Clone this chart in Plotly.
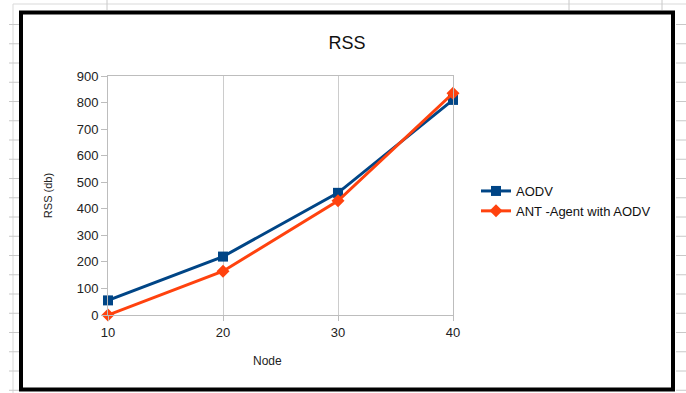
import plotly.graph_objects as go

# Node counts and received signal strength for each routing scheme
nodes = [10, 20, 30, 40]
aodv_rss = [55, 220, 460, 810]
ant_rss = [0, 165, 430, 835]
y_ticks = [0, 100, 200, 300, 400, 500, 600, 700, 800, 900]

W, H = 686, 393
# plot-area edges in pixels
PL, PR, PT, PB = 108, 453, 76, 315


def px(x):
    return (x - PL) / (PR - PL)


def py(y):
    return (PB - y) / (PB - PT)


fig = go.Figure()
fig.add_trace(go.Scatter(
    x=nodes, y=aodv_rss, name="AODV", mode="lines+markers",
    line=dict(color="#004586", width=3),
    marker=dict(symbol="square", size=10, color="#004586"),
    cliponaxis=False,
))
fig.add_trace(go.Scatter(
    x=nodes, y=ant_rss, name="ANT -Agent with AODV", mode="lines+markers",
    line=dict(color="#ff420e", width=3),
    marker=dict(symbol="diamond", size=10, color="#ff420e"),
    cliponaxis=False,
))

shapes = []
grid = "#d9d9d9"
# spreadsheet cell lines behind the chart
shapes.append(dict(type="line", xref="paper", yref="paper",
                   x0=px(13), x1=px(686), y0=py(4), y1=py(4),
                   line=dict(color=grid, width=1), layer="below"))
shapes.append(dict(type="line", xref="paper", yref="paper",
                   x0=px(13), x1=px(13), y0=py(4), y1=py(393),
                   line=dict(color=grid, width=1), layer="below"))
for cx in (107, 569, 662):
    shapes.append(dict(type="line", xref="paper", yref="paper",
                       x0=px(cx), x1=px(cx), y0=py(0), y1=py(10),
                       line=dict(color="#c8c8c8", width=1), layer="below"))
row = 24.5
while row < H:
    shapes.append(dict(type="line", xref="paper", yref="paper",
                       x0=px(9), x1=px(19), y0=py(row), y1=py(row),
                       line=dict(color="#c8c8c8", width=1), layer="below"))
    shapes.append(dict(type="line", xref="paper", yref="paper",
                       x0=px(676), x1=px(686), y0=py(row), y1=py(row),
                       line=dict(color="#c8c8c8", width=1), layer="below"))
    row += 19.25
# chart frame
shapes.append(dict(type="rect", xref="paper", yref="paper",
                   x0=px(21), x1=px(673), y0=py(12.5), y1=py(389.5),
                   line=dict(color="#000000", width=4), fillcolor="rgba(0,0,0,0)"))

fig.update_layout(
    width=W, height=H,
    margin=dict(l=PL, r=W - PR, t=PT, b=H - PB),
    paper_bgcolor="white", plot_bgcolor="white",
    font=dict(family="Liberation Sans, Arial, sans-serif", color="#222222", size=13),
    title=dict(text="RSS", x=347 / W, xanchor="center",
               y=1 - 43 / H, yanchor="middle", yref="container",
               font=dict(size=18, color="#111111")),
    showlegend=True,
    legend=dict(x=px(476), xanchor="left", y=py(201), yanchor="middle",
                font=dict(size=13, color="#111111"), bgcolor="rgba(0,0,0,0)",
                tracegroupgap=0),
    shapes=shapes,
    annotations=[dict(text="Node", xref="paper", yref="paper",
                      x=px(267), y=py(361), xanchor="center", yanchor="middle",
                      showarrow=False, font=dict(size=12, color="#222222"))],
    xaxis=dict(
        range=[10, 40], tickvals=nodes, ticktext=[str(n) for n in nodes],
        showgrid=True, gridcolor="#cccccc", gridwidth=1,
        showline=True, linecolor="#bdbdbd", linewidth=1, mirror=True,
        ticks="outside", ticklen=5, tickcolor="#bdbdbd",
        tickfont=dict(size=13), zeroline=False,
    ),
    yaxis=dict(
        range=[0, 900], tickvals=y_ticks,
        showgrid=False,
        showline=True, linecolor="#bdbdbd", linewidth=1, mirror=True,
        ticks="outside", ticklen=6, tickcolor="#bdbdbd",
        tickfont=dict(size=13), zeroline=False,
        title=dict(text="RSS (db)", font=dict(size=11), standoff=21),
    ),
)

fig.write_html("out.html")
